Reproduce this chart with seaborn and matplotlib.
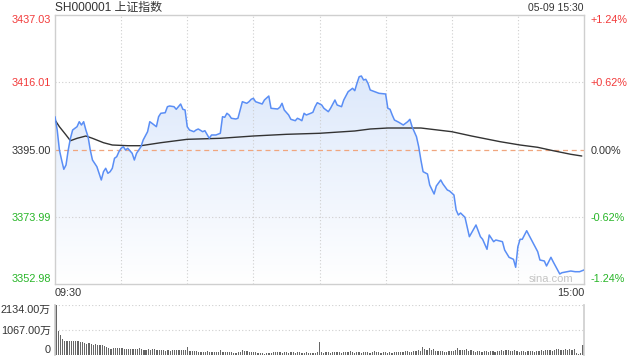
import matplotlib
matplotlib.use("Agg")
import matplotlib.pyplot as plt
import numpy as np
import seaborn as sns
from matplotlib.colors import LinearSegmentedColormap

# price axis
PREV_CLOSE = 3395.00
PRICE_TICKS = [3352.98, 3373.99, 3395.00, 3416.01, 3437.03]
PRICE_LABELS = ["3352.98", "3373.99", "3395.00", "3416.01", "3437.03"]
PCT_LABELS = ["-1.24%", "-0.62%", "0.00%", "+0.62%", "+1.24%"]
TIME_TICKS = [0, 240]
TIME_LABELS = ["09:30", "15:00"]

# intraday price, minutes since 09:30 (lunch break removed)
price_minute = [
    0, 1, 2, 3, 4, 5, 6, 7, 8, 10,
    11, 12, 13, 14, 15, 16, 17, 18, 19, 21,
    22, 23, 24, 25, 26, 27, 28, 29, 30, 31,
    32, 33, 35, 36, 37, 39, 40, 42, 43, 44,
    46, 47, 48, 50, 51, 52, 54, 55, 57, 58,
    59, 60, 61, 63, 64, 65, 67, 68, 70, 71,
    73, 75, 76, 77, 78, 79, 80, 82, 83, 84,
    85, 87, 88, 89, 90, 91, 94, 95, 97, 98,
    101, 102, 103, 104, 106, 107, 109, 110, 111, 112,
    113, 114, 116, 117, 118, 119, 121, 122, 124, 125,
    127, 128, 130, 131, 133, 134, 135, 136, 137, 138,
    139, 140, 141, 142, 143, 145, 147, 150, 151, 152,
    153, 154, 156, 158, 160, 161, 162, 164, 165, 166,
    167, 169, 170, 172, 173, 175, 176, 178, 179, 181,
    182, 183, 184, 186, 188, 191, 193, 194, 196, 197,
    199, 200, 203, 204, 206, 208, 209, 210, 211, 212,
    214, 215, 217, 219, 220, 222, 223, 225, 226, 229,
    230, 234, 236, 238, 240,
]
price_value = [
    3405.25, 3401.10, 3394.85, 3391.72, 3388.82, 3390.16, 3394.85, 3398.50, 3401.10, 3402.13,
    3403.69, 3402.66, 3403.69, 3401.10, 3399.00, 3394.85, 3391.72, 3390.69, 3389.63, 3385.48,
    3388.07, 3389.13, 3387.57, 3388.07, 3389.13, 3392.26, 3392.76, 3394.32, 3395.38, 3395.88,
    3394.85, 3395.38, 3393.82, 3391.72, 3393.82, 3395.88, 3397.97, 3400.57, 3403.69, 3403.19,
    3402.13, 3405.25, 3406.32, 3406.50, 3408.38, 3408.60, 3408.38, 3407.57, 3409.22, 3407.57,
    3407.35, 3402.13, 3401.10, 3400.57, 3401.10, 3401.41, 3400.57, 3400.88, 3398.50, 3399.54,
    3399.54, 3400.07, 3405.25, 3405.07, 3406.32, 3405.78, 3404.76, 3404.54, 3404.76, 3407.35,
    3409.94, 3409.44, 3409.94, 3410.69, 3411.00, 3409.94, 3409.22, 3410.47, 3411.72, 3407.88,
    3407.66, 3408.19, 3409.44, 3407.35, 3405.78, 3404.44, 3404.00, 3404.76, 3404.44, 3404.00,
    3406.32, 3405.78, 3406.32, 3406.63, 3408.38, 3409.63, 3408.91, 3407.88, 3406.82, 3407.88,
    3410.47, 3408.91, 3408.38, 3410.47, 3413.07, 3413.60, 3414.13, 3413.38, 3415.69, 3417.75,
    3417.97, 3416.72, 3416.94, 3415.69, 3413.60, 3413.07, 3412.56, 3412.35, 3407.88, 3407.57,
    3405.78, 3404.22, 3403.50, 3402.66, 3403.69, 3404.44, 3402.13, 3399.00, 3395.88, 3391.72,
    3388.07, 3387.35, 3383.91, 3381.10, 3383.60, 3385.48, 3384.23, 3382.35, 3382.04, 3380.79,
    3376.10, 3374.54, 3375.16, 3373.82, 3367.76, 3371.42, 3367.76, 3366.95, 3363.82, 3368.29,
    3366.20, 3366.73, 3366.20, 3363.60, 3361.32, 3360.70, 3358.20, 3364.63, 3366.95, 3366.95,
    3369.63, 3368.29, 3365.70, 3363.07, 3360.48, 3360.17, 3358.61, 3361.32, 3359.95, 3356.11,
    3356.51, 3357.04, 3356.82, 3356.82, 3357.36,
]

# average price line
avg_minute = [0, 2, 5, 7, 10, 14, 17, 22, 26, 33, 39, 48, 60, 75, 90,
              105, 120, 136, 143, 151, 166, 180, 189, 202, 211, 219, 226, 234, 239]
avg_value = [3404.22, 3402.13, 3399.54, 3397.75, 3398.50, 3399.22, 3398.50, 3397.13,
             3396.41, 3396.19, 3396.19, 3397.13, 3398.19, 3398.50, 3399.22, 3399.75,
             3400.07, 3400.79, 3401.41, 3401.72, 3401.72, 3400.57, 3399.22, 3397.44,
             3396.41, 3395.69, 3394.63, 3393.51, 3392.97]

# volume per minute, in 万
volume = [
    2134, 1045, 870, 700, 610, 585, 585, 585, 610, 585,
    610, 540, 540, 500, 465, 500, 465, 435, 465, 420,
    435, 435, 390, 350, 320, 250, 290, 290, 320, 290,
    280, 250, 250, 240, 250, 260, 250, 250, 280, 250,
    210, 230, 250, 220, 250, 270, 230, 220, 220, 200,
    190, 220, 170, 200, 220, 220, 210, 200, 220, 200,
    350, 190, 180, 180, 180, 130, 130, 130, 140, 160,
    130, 130, 130, 130, 130, 220, 130, 130, 130, 130,
    130, 100, 100, 130, 140, 200, 160, 160, 130, 130,
    120, 130, 100, 100, 80, 60, 100, 90, 90, 130,
    120, 140, 120, 100, 120, 110, 100, 110, 130, 100,
    110, 120, 90, 100, 110, 80, 100, 70, 90, 110,
    540, 120, 100, 130, 110, 100, 130, 120, 140, 120,
    100, 110, 130, 140, 170, 120, 100, 110, 130, 100,
    110, 120, 130, 100, 110, 150, 120, 110, 100, 130,
    110, 100, 120, 100, 110, 130, 140, 120, 110, 150,
    160, 140, 130, 150, 160, 200, 190, 360, 250, 230,
    300, 200, 260, 180, 150, 170, 160, 140, 130, 150,
    170, 150, 200, 320, 220, 230, 200, 240, 180, 200,
    150, 130, 170, 160, 140, 180, 160, 130, 150, 170,
    140, 150, 180, 200, 170, 210, 220, 190, 160, 200,
    150, 140, 160, 150, 130, 170, 190, 150, 140, 160,
    180, 210, 170, 200, 230, 220, 180, 230, 240, 250,
    220, 200, 250, 230, 240, 210, 240, 80, 60, 70,
    435,
]
VOL_TICKS = [0, 1067, 2134]
VOL_LABELS = ["0", "1067.00万", "2134.00万"]

RED = "#f23a3a"
GREEN = "#27b527"
DARK = "#333333"
BLUE = "#5a8ef5"
GRID = "#cfcfcf"

sns.set_theme(style="white")
plt.rcParams["font.family"] = ["Liberation Sans", "Noto Sans CJK SC", "DejaVu Sans"]

fig = plt.figure(figsize=(6.4, 3.6), dpi=100)
W, H = 640, 360
ax = fig.add_axes([55 / W, 1 - 284 / H, 529 / W, 269 / H])
axv = fig.add_axes([55 / W, 1 - 355 / H, 529 / W, 50 / H])

ymin, ymax = PRICE_TICKS[0], PRICE_TICKS[-1]
ax.set_xlim(0, 240)
ax.set_ylim(ymin, ymax)

# gradient fill under the price line
poly = ax.fill_between(price_minute, price_value, ymin, color="none", lw=0)
cmap = LinearSegmentedColormap.from_list("fade", ["#ffffff", "#d3e2fa"])
grad = np.linspace(0, 1, 256).reshape(-1, 1)
im = ax.imshow(grad, extent=[0, 240, ymin, ymax], origin="lower", aspect="auto",
               cmap=cmap, zorder=1)
im.set_clip_path(poly.get_paths()[0], transform=ax.transData)

# grid
for v in (PRICE_TICKS[1], PRICE_TICKS[3]):
    ax.axhline(v, color=GRID, lw=0.8, ls=(0, (1, 2)), zorder=1.5)
for m in range(30, 240, 30):
    ax.axvline(m, color=GRID, lw=0.8, ls=(0, (1, 2)), zorder=1.5)
ax.axhline(PREV_CLOSE, color="#f0a67e", lw=0.9, ls=(0, (4, 3)), zorder=1.6)

sns.lineplot(x=avg_minute, y=avg_value, ax=ax, color=DARK, lw=1.0, zorder=3)
sns.lineplot(x=price_minute, y=price_value, ax=ax, color=BLUE, lw=1.1, zorder=4)

for s in ax.spines.values():
    s.set_color(GRID)
    s.set_linewidth(1)

ax.set_xticks(TIME_TICKS, TIME_LABELS)
ax.set_yticks(PRICE_TICKS, PRICE_LABELS)
ax.tick_params(axis="both", length=0, labelsize=7.8, colors=DARK)
ax.tick_params(axis="y", pad=3)
ax.tick_params(axis="x", pad=3)
xl = ax.get_xticklabels()
xl[0].set_ha("left")
xl[1].set_ha("right")
tick_colours = [GREEN, GREEN, DARK, RED, RED]
for lab, c in zip(ax.get_yticklabels(), tick_colours):
    lab.set_color(c)
ax.get_yticklabels()[0].set_va("bottom")
ax.get_yticklabels()[-1].set_va("top")
ax.set_xlabel("")
ax.set_ylabel("")

ax2 = ax.twinx()
ax2.set_ylim(ymin, ymax)
ax2.set_yticks(PRICE_TICKS, PCT_LABELS)
ax2.tick_params(axis="y", length=0, labelsize=7.8, pad=5)
for lab, c in zip(ax2.get_yticklabels(), tick_colours):
    lab.set_color(c)
ax2.get_yticklabels()[0].set_va("bottom")
ax2.get_yticklabels()[-1].set_va("top")
for s in ax2.spines.values():
    s.set_visible(False)

ax.text(0.979, 0.02, "sina.com", transform=ax.transAxes, ha="right", va="center",
        fontsize=8, color="#c4c4c4", zorder=5)

# volume panel
axv.bar(np.arange(len(volume)), volume, width=0.55, color="#666666", lw=0)
axv.set_xlim(-0.5, 240.5)
axv.set_ylim(0, VOL_TICKS[-1])
for v in VOL_TICKS[1:]:
    axv.axhline(v, color=GRID, lw=0.8, ls=(0, (1, 2)), zorder=0)
axv.set_xticks([])
axv.set_yticks(VOL_TICKS, VOL_LABELS)
axv.tick_params(axis="y", length=0, labelsize=7.8, pad=3, colors=DARK)
axv.get_yticklabels()[0].set_va("bottom")
axv.get_yticklabels()[-1].set_va("top")
for side, s in axv.spines.items():
    s.set_color(GRID)
    s.set_visible(side in ("left", "right"))

fig.text(55 / W, 1 - 8 / H, "SH000001 上证指数", ha="left", va="center",
         fontsize=8.6, color=DARK)
fig.text(584 / W, 1 - 8 / H, "05-09 15:30", ha="right", va="center",
         fontsize=7.5, color=DARK)

fig.savefig("out.png", dpi=100)
